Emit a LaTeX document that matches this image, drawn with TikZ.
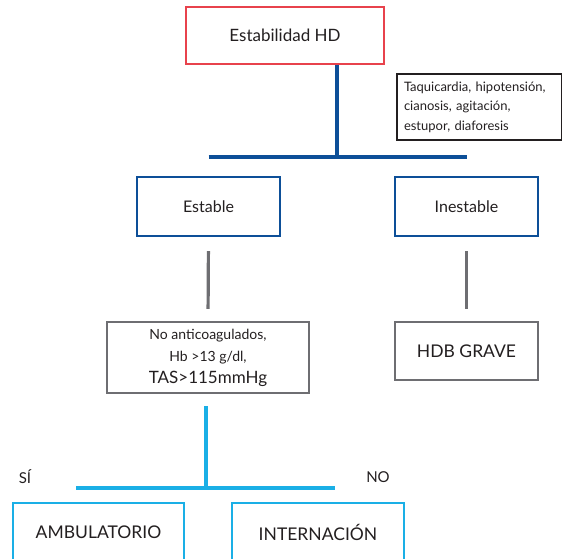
\documentclass[tikz,border=0pt]{standalone}
\usepackage{fontspec}
\setmainfont{Lato}
\usepackage{tikz}
\usetikzlibrary{positioning}
\definecolor{hdred}{HTML}{E8424C}
\definecolor{hdnavy}{HTML}{0D4F98}
\definecolor{hdgray}{HTML}{6E6E72}
\definecolor{hdcyan}{HTML}{1AAFE6}
\definecolor{hdtext}{HTML}{231F20}
\tikzset{
	caja/.style={draw, line width=2.4pt, fill=white, align=center, inner sep=0pt, text=hdtext, font=\fontsize{16}{19}\selectfont},
	nota/.style={draw=hdtext, line width=1.1pt, align=left, inner sep=0pt, text=hdtext, font=\fontsize{13}{19.5}\selectfont},
	rama/.style={line width=3.2pt},
	etiq/.style={text=hdtext, font=\fontsize{15}{17}\selectfont}
}
\begin{document}
\begin{tikzpicture}[x=1pt,y=-1pt]
		\useasboundingbox (0,0) rectangle (562,559);
		\node[caja, draw=hdred, minimum width=198pt, minimum height=57pt, font=\fontsize{17}{20}\selectfont] (hd) at (285,35.5) {Estabilidad HD};
		\node[nota, minimum width=165pt, minimum height=66pt, text width=151pt] (signos) at (479.5,107) {Taquicardia, hipotensión,\\cianosis, agitación,\\estupor, diaforesis};
		\node[caja, draw=hdnavy, minimum width=143pt, minimum height=59pt] (estable) at (208.5,206.5) {Estable};
		\node[caja, draw=hdnavy, minimum width=143pt, minimum height=59pt] (inestable) at (466.5,206.5) {Inestable};
		\node[caja, draw=hdgray, minimum width=202pt, minimum height=71pt, font=\fontsize{14}{22}\selectfont] (noanti) at (208,357.5) {No anticoagulados,\\Hb >13 g/dl,\\{\fontsize{17}{22}\selectfont TAS>115mmHg}};
		\node[caja, draw=hdgray, minimum width=143pt, minimum height=58pt, font=\fontsize{17.5}{20}\selectfont] (grave) at (466.5,351) {HDB GRAVE};
		\node[caja, draw=hdcyan, minimum width=171pt, minimum height=58pt, font=\fontsize{17.5}{20}\selectfont] (ambul) at (98.5,532) {AMBULATORIO};
		\node[caja, draw=hdcyan, minimum width=172pt, minimum height=58pt, font=\fontsize{17.5}{20}\selectfont] (intern) at (318,532) {INTERNACIÓN};
		\node[etiq] (si) at (25,477) {SÍ};
		\node[etiq] (no) at (378,477) {NO};
		\coordinate (forkA) at (337,157);
		\coordinate (forkB) at (206,488);
		\coordinate (siend) at (76,488);
		\coordinate (noend) at (335,488);
		\draw[rama, hdnavy] (hd.south -| forkA) -- (forkA);
		\draw[rama, hdnavy] (estable.north |- forkA) -- (inestable.north |- forkA);
		\draw[rama, hdgray, shorten <=14pt, shorten >=12pt] (estable.south) -- (noanti.north);
		\draw[rama, hdgray, shorten <=14pt, shorten >=12pt] (inestable.south) -- (grave.north);
		\draw[rama, hdcyan, shorten <=12pt] (noanti.south -| forkB) -- (forkB);
		\draw[rama, hdcyan] (siend) -- (noend);
	\end{tikzpicture}
\end{document}
